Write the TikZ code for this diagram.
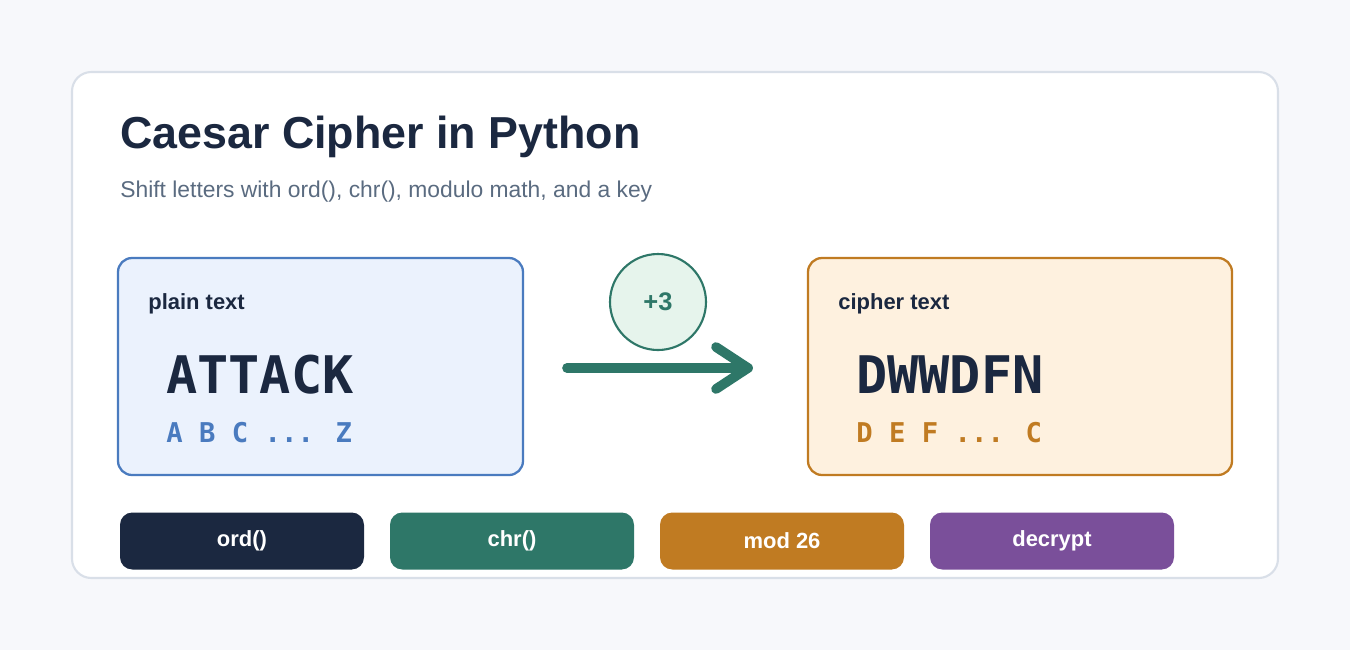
\documentclass[tikz,border=0pt]{standalone}
\usepackage{fontspec}
\setmainfont{Liberation Sans}
\newfontfamily\monob{DejaVu Sans Mono}
\definecolor{bg}{HTML}{F7F8FB}
\definecolor{cardb}{HTML}{D9DFE8}
\definecolor{navy}{HTML}{1B2840}
\definecolor{sub}{HTML}{5A6B80}
\definecolor{blu}{HTML}{4A7BBF}
\definecolor{blufill}{HTML}{EBF2FD}
\definecolor{org}{HTML}{C07B22}
\definecolor{orgfill}{HTML}{FEF1DF}
\definecolor{grn}{HTML}{2E7768}
\definecolor{grnfill}{HTML}{E6F4EC}
\definecolor{pur}{HTML}{7A4F9A}
\begin{document}
\begin{tikzpicture}[x=0.02cm,y=-0.02cm,
  lbl/.style={anchor=base west,inner sep=0,font=\fontsize{12.5}{15}\selectfont\bfseries,text=navy},
  big/.style={anchor=base west,inner sep=0,font=\monob\fontsize{29.5}{34}\selectfont\bfseries,text=navy},
  small/.style={anchor=base west,inner sep=0,font=\monob\fontsize{15.5}{18}\selectfont\bfseries},
  pill/.style={draw=none,rounded corners=7pt,minimum width=244*0.02cm,minimum height=57*0.02cm,text=white,font=\fontsize{12.5}{15}\selectfont\bfseries}]
\path[fill=bg] (0,0) rectangle (1350,650);
\useasboundingbox (0,0) rectangle (1350,650);
\draw[draw=cardb,line width=1.2pt,fill=white,rounded corners=11pt] (72,72) rectangle (1278,578);
\node[anchor=base west,inner sep=0,font=\fontsize{25.5}{30}\selectfont\bfseries,text=navy] (title) at (120,148) {Caesar Cipher in Python};
\node[anchor=base west,inner sep=0,font=\fontsize{13}{16}\selectfont,text=sub] (subt) at (120,197) {Shift letters with ord(), chr(), modulo math, and a key};
\node[draw=blu,fill=blufill,line width=1.3pt,rounded corners=8pt,minimum width=405*0.02cm,minimum height=217*0.02cm] (plain) at (320.5,366.5) {};
\node[lbl] (pl) at (148,309) {plain text};
\node[big] (att) at (166,393) {ATTACK};
\node[small,text=blu] (abc) at (166,442) {A B C ... Z};
\node[draw=org,fill=orgfill,line width=1.3pt,rounded corners=8pt,minimum width=424*0.02cm,minimum height=217*0.02cm] (ciph) at (1020,366.5) {};
\node[lbl] (cl) at (838,309) {cipher text};
\node[big] (dww) at (856,393) {DWWDFN};
\node[small,text=org] (def) at (856,442) {D E F ... C};
\node[circle,draw=grn,fill=grnfill,line width=1.2pt,minimum size=96*0.02cm,inner sep=0,text=grn,font=\fontsize{14.5}{17}\selectfont\bfseries] (key) at (658,302) {+3};
\coordinate (a1) at (567,368);
\coordinate (a2) at (748,368);
\draw[grn,line width=5.5pt,line cap=round] (a1) -- (a2);
\draw[grn,line width=5.5pt,line cap=round,line join=round] (716,347) -- (a2) -- (716,389);
\node[pill,fill=navy] (p1) at (242,541) {ord()};
\node[pill,fill=grn] (p2) at (512,541) {chr()};
\node[pill,fill=org] (p3) at (782,541) {mod 26};
\node[pill,fill=pur] (p4) at (1052,541) {decrypt};
\end{tikzpicture}
\end{document}
